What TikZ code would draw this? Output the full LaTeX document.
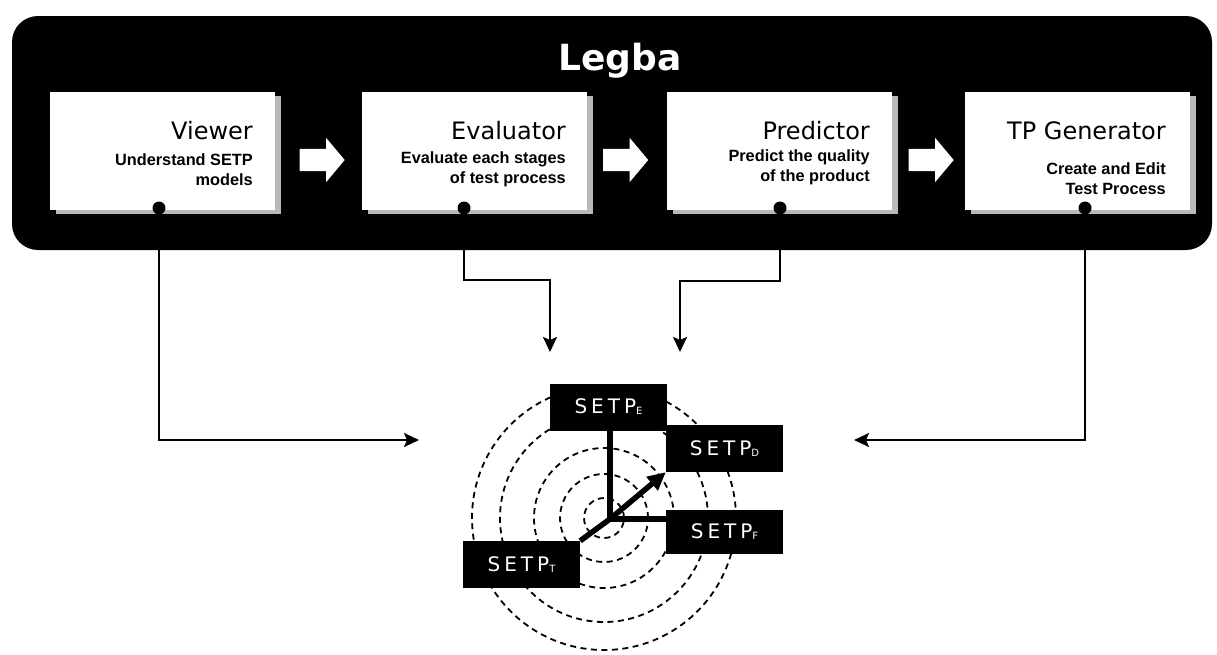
\documentclass[tikz,border=0pt]{standalone}
\usepackage{fontspec}
\setmainfont{DejaVu Sans}
\newfontfamily\subfont{Liberation Sans}
\newfontfamily\setpfont{DejaVu Sans}[LetterSpace=20]
\usetikzlibrary{arrows.meta,shapes.arrows}
\newcommand\subl[1]{{\fontsize{10}{10}\selectfont\raisebox{-1pt}{#1}}}
\begin{document}
\begin{tikzpicture}[x=1pt,y=-1pt,
  panel/.style={fill=black, rounded corners=26pt},
  modbox/.style={fill=white, inner sep=0pt, minimum width=225pt, minimum height=118pt, anchor=north west},
  boxshadow/.style={fill=gray!55, inner sep=0pt, minimum width=225pt, minimum height=118pt, anchor=north west},
  modtitle/.style={font=\fontsize{24}{24}\selectfont, anchor=base east, inner sep=0pt},
  modsub/.style={font=\subfont\bfseries\fontsize{16.3}{20.5}\selectfont, align=right, anchor=north east, inner sep=0pt},
  flow/.style={single arrow, fill=white, inner sep=0pt, text height=22pt, text depth=0pt, text width=0pt, minimum width=44pt, minimum height=45pt, single arrow head extend=11pt, single arrow tip angle=100},
  dot/.style={circle, fill=black, inner sep=0pt, minimum size=13pt},
  conn/.style={line width=2.2pt, -{Stealth[length=15pt,width=14pt,inset=3pt]}},
  ring/.style={dash pattern=on 6pt off 4.5pt, line width=1.8pt},
  setp/.style={fill=black, text=white, inner sep=0pt, minimum width=117pt, minimum height=47pt, font=\setpfont\fontsize{20}{20}\selectfont},
  spoke/.style={line width=5.5pt},
]
\useasboundingbox (0,0) rectangle (1217,654);
% panel
\fill[panel] (12,16) rectangle (1212,250);
\node[text=white, font=\bfseries\fontsize{36}{36}\selectfont, anchor=base, inner sep=0pt] (legba) at (620,70) {Legba};
% shadows and boxes
\node[boxshadow] (vsh) at (56,96) {};
\node[boxshadow] (esh) at (368,96) {};
\node[boxshadow] (psh) at (673,96) {};
\node[boxshadow] (tsh) at (971,96) {};
\node[modbox] (viewer) at (50,92) {};
\node[modbox] (evaluator) at (362,92) {};
\node[modbox] (predictor) at (667,92) {};
\node[modbox] (tpgen) at (965,92) {};
% titles
\node[modtitle] (vt) at (253,139) {Viewer};
\node[modtitle] (et) at (566,139) {Evaluator};
\node[modtitle] (pt) at (870,139) {Predictor};
\node[modtitle] (tt) at (1166,139) {TP Generator};
\node[modsub] (vs) at (253,153) {Understand SETP\\models};
\node[modsub] (es) at (566,151) {Evaluate each stages\\of test process};
\node[modsub] (ps) at (870,149) {Predict the quality\\of the product};
\node[modsub] (ts) at (1166,162) {Create and Edit\\Test Process};
% flow arrows
\node[flow] (f1) at (317.5,160) {};
\node[flow] (f2) at (621,160) {};
\node[flow] (f3) at (926.5,160) {};
% dots
\node[dot] (vd) at (159,208) {};
\node[dot] (ed) at (464,208) {};
\node[dot] (pd) at (780,208) {};
\node[dot] (td) at (1085,208) {};
% connectors
\coordinate (vend) at (419,440);
\coordinate (eturn) at (550,280);
\coordinate (eend) at (550,352);
\coordinate (pturn) at (680,281);
\coordinate (pend) at (680,352);
\coordinate (tend) at (854,440);
\draw[conn] (vd.center) |- (vend);
\draw[conn] (ed.center) |- (eturn) -- (eend);
\draw[conn] (pd.center) |- (pturn) -- (pend);
\draw[conn] (td.center) |- (tend);
% rings
\coordinate (hub) at (610,519);
\foreach \r in {132,104,70,44,20} {\draw[ring] (604,518) circle [radius=\r pt];}
% SETP boxes
\node[setp] (se) at (608.5,407) {SETP\subl{E}};
\node[setp] (sd) at (724.5,448.5) {SETP\subl{D}};
\node[setp, minimum height=44pt] (sf) at (724.5,531.5) {SETP\subl{F}};
\node[setp] (st) at (521.5,564.5) {SETP\subl{T}};
% spokes
\draw[spoke] (hub |- se.south) -- (hub);
\draw[spoke] (hub) -- (sf.west |- hub);
\draw[spoke] (hub) -- (st.north east);
\draw[spoke, -{Triangle[length=18pt,width=17pt]}] (hub) -- (sd.south west);
\end{tikzpicture}
\end{document}
